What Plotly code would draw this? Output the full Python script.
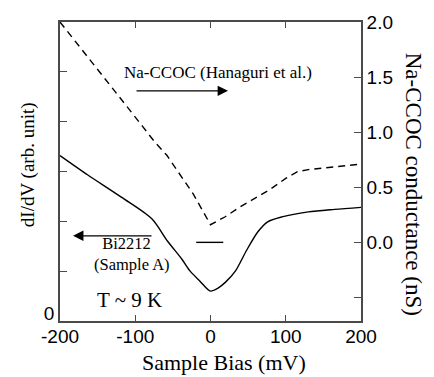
import plotly.graph_objects as go

# Bi2212 (Sample A) dI/dV, left axis (arb. unit)
bias_bi = [-200, -163, -118, -78, -57, -38, -27, -14, 0, 10, 20, 33, 48, 63, 76, 95, 130, 165, 200]
didv_bi = [3.32, 2.93, 2.48, 2.05, 1.60, 1.24, 1.00, 0.80, 0.60, 0.66, 0.78, 1.00, 1.42, 1.79, 1.99, 2.09, 2.19, 2.24, 2.28]

# Na-CCOC conductance (nS), right axis
bias_na = [-200, -160, -120, -90, -74, -58, -40, -23, 0, 19, 39, 60, 79, 100, 115, 130, 159, 200]
cond_na = [2.0, 1.65, 1.31, 1.05, 0.91, 0.79, 0.61, 0.44, 0.16, 0.23, 0.32, 0.40, 0.48, 0.58, 0.64, 0.66, 0.68, 0.71]

x_ticks = [-200, -100, 0, 100, 200]
x_ticktext = ["-200", "-100", "0", "100", "200"]
left_ticks = [0, 1, 2, 3, 4, 5, 6]
left_ticktext = ["0", "", "", "", "", "", ""]
right_ticks = [-0.5, 0, 0.5, 1.0, 1.5, 2.0]
right_ticktext = ["", "0.0", "0.5", "1.0", "1.5", "2.0"]

SERIF = "Liberation Serif, Times New Roman, serif"
SANS = "Liberation Sans, Arial, sans-serif"
AX = "#4a4a4a"

fig = go.Figure()
fig.add_trace(go.Scatter(x=bias_bi, y=didv_bi, mode="lines", yaxis="y",
                         line=dict(color="black", width=1.4, shape="spline", smoothing=0.8),
                         showlegend=False, hoverinfo="skip"))
fig.add_trace(go.Scatter(x=bias_na, y=cond_na, mode="lines", yaxis="y2",
                         line=dict(color="black", width=1.4, dash="7px,5px"),
                         showlegend=False, hoverinfo="skip"))

# zero reference bar for the right axis
fig.add_shape(type="line", xref="x", yref="y2", x0=-19, x1=17, y0=0, y1=0,
              line=dict(color="black", width=1.4))

W, H = 434, 377
L, R, T, B = 60, 73, 16, 56
pw, ph = W - L - R, H - T - B

def px(xp):
    return (xp - L) / pw

def py(yp):
    return (H - B - yp) / ph

def y2(yp):
    # pixel row -> right-axis value (0 at row 240.7, 112.5 px per nS)
    return (240.7 - yp) / 112.5

annots = [
    dict(text="Na-CCOC (Hanaguri et al.)", x=px(122), y=py(68), xanchor="left", yanchor="middle",
         font=dict(family=SERIF, size=17, color="black")),
    dict(text="\u00a0\u00a0Bi2212<br>(Sample A)", x=px(92), y=py(253), xanchor="left", yanchor="middle",
         align="left", font=dict(family=SERIF, size=16.5, color="black")),
    dict(text="T ~ 9 K", x=px(95), y=py(300), xanchor="left", yanchor="middle",
         font=dict(family=SERIF, size=21, color="black")),
    dict(text="dI/dV (arb. unit)", x=px(28), y=py(162), xanchor="center", yanchor="middle",
         textangle=-90, font=dict(family=SERIF, size=19, color="black")),
    dict(text="Na-CCOC conductance (nS)", x=px(413), y=py(181), xanchor="center", yanchor="middle",
         textangle=90, font=dict(family=SERIF, size=23, color="black")),
    dict(text="Sample Bias (mV)", x=px(224), y=py(363), xanchor="center", yanchor="middle",
         font=dict(family=SERIF, size=22, color="black")),
]
for a in annots:
    a.update(xref="paper", yref="paper", showarrow=False)

# arrows
annots.append(dict(text="", xref="x", yref="y2", axref="x", ayref="y2",
                   x=23.3, y=y2(86), ax=-100.3, ay=y2(86), showarrow=True,
                   arrowhead=2, arrowsize=1.6, arrowwidth=1.3, arrowcolor="black"))
annots.append(dict(text="", xref="x", yref="y2", axref="x", ayref="y2",
                   x=-182.7, y=y2(234), ax=-76.4, ay=y2(234), showarrow=True,
                   arrowhead=2, arrowsize=1.6, arrowwidth=1.3, arrowcolor="black"))

fig.update_layout(
    width=W, height=H,
    margin=dict(l=L, r=R, t=T, b=B, pad=0),
    paper_bgcolor="white", plot_bgcolor="white",
    annotations=annots,
    xaxis=dict(range=[-200, 200], tickvals=x_ticks, ticktext=x_ticktext,
               ticks="inside", ticklen=6, tickwidth=1.2, tickcolor=AX,
               showline=True, linecolor=AX, linewidth=1.6, mirror="ticks",
               showgrid=False, zeroline=False, ticklabelstandoff=-3,
               tickfont=dict(family=SANS, size=19, color="black")),
    yaxis=dict(range=[0, 6], tickvals=left_ticks, ticktext=left_ticktext,
               ticks="inside", ticklen=7, tickwidth=1.2, tickcolor=AX,
               showline=True, linecolor=AX, linewidth=1.6,
               showgrid=False, zeroline=False, ticklabelshift=-8,
               tickfont=dict(family=SANS, size=19, color="black")),
    yaxis2=dict(range=[-0.7138, 2.0], overlaying="y", side="right",
                tickvals=right_ticks, ticktext=right_ticktext,
                ticks="inside", ticklen=7, tickwidth=1.2, tickcolor=AX,
                showline=True, linecolor=AX, linewidth=1.6,
                showgrid=False, zeroline=False,
                tickfont=dict(family=SANS, size=19, color="black")),
)

fig.write_html("out.html")
